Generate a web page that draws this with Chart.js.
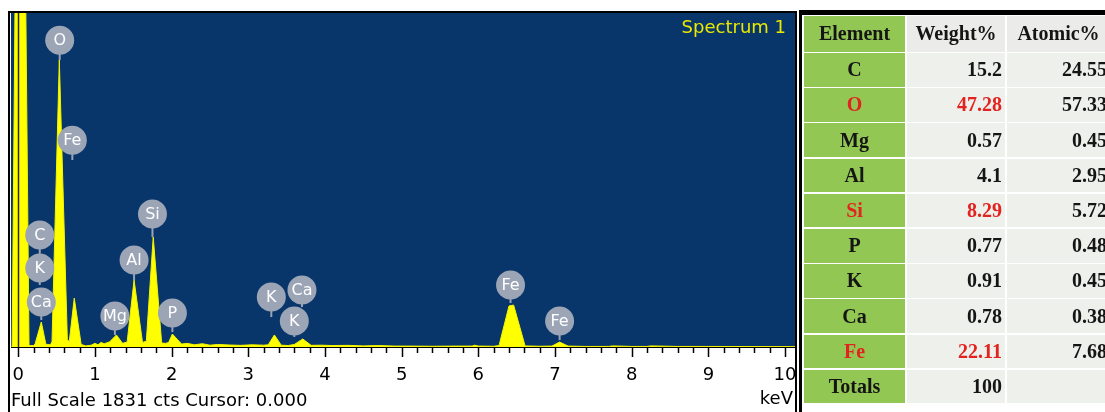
<!DOCTYPE html>
<html><head><meta charset="utf-8">
<script src="https://cdn.jsdelivr.net/npm/chart.js@4/dist/chart.umd.min.js"></script>
<style>
html,body{margin:0;padding:0;background:#fff;width:1105px;height:412px;overflow:hidden;}
#chartBox{position:absolute;left:0;top:0;width:800px;height:412px;}
#tbl{position:absolute;left:0;top:0;width:1105px;height:412px;overflow:hidden;}
.cell{position:absolute;font-family:"Liberation Serif","Times New Roman",serif;font-weight:bold;font-size:20px;color:#151515;display:flex;align-items:center;box-sizing:border-box;white-space:nowrap;}
</style></head><body>
<div id="chartBox"><canvas id="c" width="800" height="412"></canvas></div>
<div id="tbl"></div>
<script>
// ---- spectrum data (keV, counts) ----
const energyKeV = [-0.10,-0.08,-0.04,0.095,0.14,0.20,0.22,0.30,0.36,0.42,0.44,0.535,0.64,0.665,0.73,0.82,0.88,0.95,1.00,1.04,1.08,1.12,1.19,1.28,1.36,1.42,1.51,1.62,1.67,1.76,1.87,1.92,1.96,2.01,2.13,2.2,2.3,2.4,2.5,2.6,2.75,2.9,3.05,3.2,3.26,3.34,3.43,3.52,3.60,3.71,3.82,3.95,4.1,4.3,4.5,4.7,4.9,5.1,5.4,5.7,5.92,5.95,6.0,6.2,6.27,6.40,6.46,6.61,6.8,6.96,7.06,7.17,7.4,7.7,7.75,8.0,8.2,8.25,8.6,9.0,10.13];
const counts = [0,0,2000,2000,8,8,18,137,15,12,30,1573,40,30,268,14,6,10,20,12,25,18,28,66,20,28,367,25,32,603,22,20,24,71,16,20,12,18,10,14,11,9,12,10,12,66,10,8,14,44,9,10,8,9,6,8,5,5,4,5,5,10,5,4,8,225,230,6,4,5,27,5,3,3,6,3,3,6,3,3,2];

const xTickValues = [0,1,2,3,4,5,6,7,8,9,10];
const xTickLabels = ['0','1','2','3','4','5','6','7','8','9','10'];
const fullScaleCts = 1831;
const cursorKeV = 0.000;
const spectrumName = 'Spectrum 1';

// element markers
const markerLabels = ['O','Fe','C','K','Ca','Mg','Al','Si','P','K','Ca','K','Fe','Fe'];
const markerKeV    = [0.54,0.705,0.28,0.28,0.30,1.26,1.51,1.75,2.01,3.30,3.70,3.60,6.42,7.06];
const markerCounts = [1682,1134,614,433,247,170,477,729,186,274,312,142,340,142];
const markerStemCounts = [1573,1025,504,340,148,66,367,603,82,164,219,55,241,38];

// ---- quantification table ----
const tableElements = ['C','O','Mg','Al','Si','P','K','Ca','Fe'];
const weightPct = ['15.2','47.28','0.57','4.1','8.29','0.77','0.91','0.78','22.11'];
const atomicPct = ['24.55','57.33','0.45','2.95','5.72','0.48','0.45','0.38','7.68'];
const highlightedElements = ['O','Si','Fe'];
const weightTotal = '100';

const FONT = '"DejaVu Sans", Verdana, sans-serif';

const specPlugin = {
  id: 'spec',
  beforeDraw(chart) {
    const {ctx, chartArea: a} = chart;
    ctx.save();
    ctx.fillStyle = '#ffffff';
    ctx.fillRect(0, 0, chart.width, chart.height);
    ctx.fillStyle = '#08356a';
    ctx.fillRect(a.left, a.top, a.right - a.left, a.bottom - a.top);
    ctx.restore();
  },
  afterDatasetsDraw(chart) {
    const {ctx, chartArea: a, scales} = chart;
    const xs = scales.x, ys = scales.y;
    ctx.save();
    const cx = Math.round(xs.getPixelForValue(cursorKeV)) + 0.5;
    ctx.strokeStyle = '#2a2a20';
    ctx.lineWidth = 1.5;
    ctx.beginPath(); ctx.moveTo(cx, a.top); ctx.lineTo(cx, a.bottom); ctx.stroke();
    ctx.strokeStyle = '#9aa3b3';
    ctx.lineWidth = 2;
    markerLabels.forEach((lab, i) => {
      const x = xs.getPixelForValue(markerKeV[i]);
      ctx.beginPath();
      ctx.moveTo(x, ys.getPixelForValue(markerCounts[i]));
      ctx.lineTo(x, ys.getPixelForValue(markerStemCounts[i]));
      ctx.stroke();
    });
    markerLabels.forEach((lab, i) => {
      const x = xs.getPixelForValue(markerKeV[i]);
      const y = ys.getPixelForValue(markerCounts[i]);
      ctx.fillStyle = '#9ca5b5';
      ctx.beginPath(); ctx.arc(x, y, 14.5, 0, Math.PI * 2); ctx.fill();
      ctx.fillStyle = '#ffffff';
      ctx.font = '16px ' + FONT;
      ctx.textAlign = 'center';
      ctx.textBaseline = 'middle';
      ctx.fillText(lab, x, y + 1);
    });
    ctx.restore();
  },
  afterDraw(chart) {
    const {ctx, chartArea: a, scales} = chart;
    const xs = scales.x;
    ctx.save();
    ctx.strokeStyle = '#000';
    ctx.lineWidth = 1;
    ctx.beginPath(); ctx.moveTo(a.left, a.bottom + 0.5); ctx.lineTo(a.right, a.bottom + 0.5); ctx.stroke();
    ctx.lineWidth = 1.5;
    for (let k = 0; k <= 50; k++) {
      const v = k / 5;
      const x = Math.round(xs.getPixelForValue(v)) + 0.5;
      const major = k % 5 === 0;
      ctx.beginPath(); ctx.moveTo(x, a.bottom + 1); ctx.lineTo(x, a.bottom + (major ? 10 : 6)); ctx.stroke();
    }
    ctx.fillStyle = '#000';
    ctx.fillRect(8, 11, 2, chart.height - 11);
    ctx.fillRect(8, 11, 789, 2);
    ctx.fillRect(795, 11, 2, chart.height - 11);
    ctx.font = '18px ' + FONT;
    ctx.textBaseline = 'middle';
    ctx.fillStyle = '#e8e800';
    ctx.textAlign = 'right';
    ctx.fillText(spectrumName, a.right - 9, 28);
    ctx.fillStyle = '#000';
    ctx.textAlign = 'left';
    ctx.fillText('Full Scale ' + fullScaleCts + ' cts Cursor: ' + cursorKeV.toFixed(3), 11, 401);
    ctx.textAlign = 'right';
    ctx.fillText('keV', 793, 399);
    ctx.restore();
  }
};

new Chart(document.getElementById('c'), {
  type: 'line',
  data: {
    datasets: [{
      data: energyKeV.map((e, i) => ({x: e, y: counts[i]})),
      borderColor: '#f4f400',
      backgroundColor: '#ffff00',
      borderWidth: 1,
      pointRadius: 0,
      fill: 'origin',
      tension: 0
    }]
  },
  options: {
    responsive: false,
    animation: false,
    devicePixelRatio: 1,
    layout: {padding: {left: 11, right: 5, top: 13, bottom: 0}},
    plugins: {legend: {display: false}, tooltip: {enabled: false}},
    scales: {
      x: {
        type: 'linear',
        min: -0.095,
        max: 10.13,
        afterBuildTicks: s => { s.ticks = xTickValues.map(v => ({value: v})); },
        afterFit: s => { s.height = 65; s.paddingLeft = 0; s.paddingRight = 0; },
        ticks: {
          callback: (v, i) => xTickLabels[i],
          color: '#000',
          font: {family: FONT, size: 18},
          padding: 18,
          maxRotation: 0,
          autoSkip: false
        },
        grid: {display: false, drawTicks: false},
        border: {display: false}
      },
      y: {display: false, min: 0, max: fullScaleCts}
    }
  },
  plugins: [specPlugin]
});

// ---- table ----
(function () {
  const host = document.getElementById('tbl');
  const add = (left, top, w, h, bg, txt, opts) => {
    const d = document.createElement('div');
    d.className = 'cell';
    d.style.left = left + 'px'; d.style.top = top + 'px';
    d.style.width = w + 'px'; d.style.height = h + 'px';
    d.style.background = bg;
    d.style.justifyContent = (opts && opts.align) || 'center';
    if (opts && opts.pr) d.style.paddingRight = opts.pr + 'px';
    if (opts && opts.color) d.style.color = opts.color;
    d.textContent = txt;
    host.appendChild(d);
  };
  add(799, 10, 3, 402, '#000', '');
  add(799, 10, 306, 5, '#000', '');
  const cols = [[804, 101], [907, 98], [1007, 103]];
  const green = '#93c754', light = '#eef0eb', head = '#ebece9';
  const red = '#e3231f';
  const rowTop = i => i === 0 ? 16 : 53 + (i - 1) * 35.2;
  const rowH = i => i === 0 ? 35.5 : 33.6;
  add(cols[0][0], rowTop(0), cols[0][1], rowH(0), green, 'Element');
  add(cols[1][0], rowTop(0), cols[1][1], rowH(0), head, 'Weight%');
  add(cols[2][0], rowTop(0), cols[2][1], rowH(0), head, 'Atomic%');
  tableElements.forEach((el, k) => {
    const i = k + 1;
    const hl = highlightedElements.includes(el);
    add(cols[0][0], rowTop(i), cols[0][1], rowH(i), green, el, {color: hl ? red : '#151515'});
    add(cols[1][0], rowTop(i), cols[1][1], rowH(i), light, weightPct[k], {align: 'flex-end', pr: 3, color: hl ? red : '#151515'});
    add(cols[2][0], rowTop(i), cols[2][1], rowH(i), light, atomicPct[k], {align: 'flex-end', pr: 3});
  });
  const t = tableElements.length + 1;
  add(cols[0][0], rowTop(t), cols[0][1], rowH(t), green, 'Totals');
  add(cols[1][0], rowTop(t), cols[1][1], rowH(t), light, weightTotal, {align: 'flex-end', pr: 3});
  add(cols[2][0], rowTop(t), cols[2][1], rowH(t), light, '');
})();
</script>
</body></html>
